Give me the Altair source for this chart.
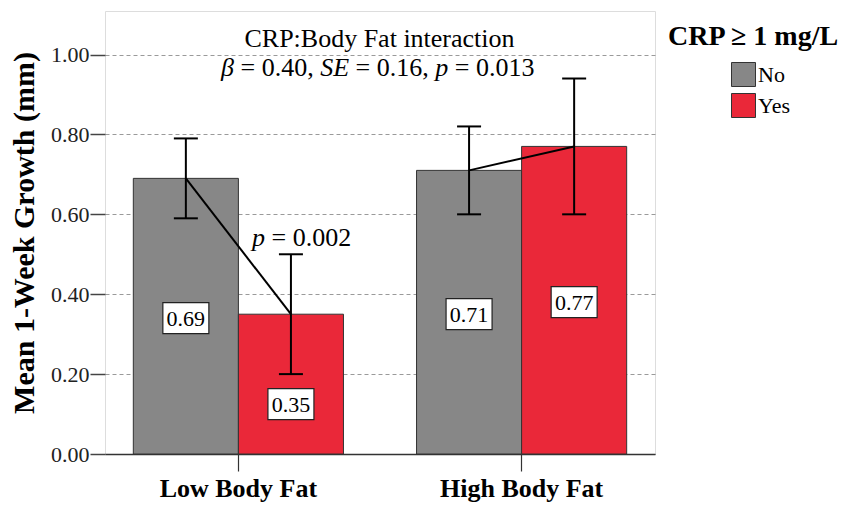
import altair as alt
import pandas as pd

# ---- data ----
groups = ["Low Body Fat", "Low Body Fat", "High Body Fat", "High Body Fat"]
crp = ["No", "Yes", "No", "Yes"]
means = [0.69, 0.35, 0.71, 0.77]
lower = [0.59, 0.20, 0.60, 0.60]
upper = [0.79, 0.50, 0.82, 0.94]
label_pos = [0.34, 0.125, 0.35, 0.38]
group_order = ["Low Body Fat", "High Body Fat"]
crp_order = ["No", "Yes"]
y_ticks = [0.0, 0.2, 0.4, 0.6, 0.8, 1.0]

df = pd.DataFrame({
    "group": groups, "crp": crp, "mean": means,
    "lower": lower, "upper": upper, "lab": label_pos,
    "txt": [f"{v:.2f}" for v in means],
})

SERIF = "Liberation Serif, Times New Roman, serif"
W, H = 550, 443

x = alt.X("group:N", sort=group_order,
          scale=alt.Scale(paddingInner=0.258, paddingOuter=0.1),
          axis=alt.Axis(title=None, labelFont=SERIF, labelFontSize=26,
                        labelFontWeight="bold", labelColor="black",
                        labelAngle=0, tickSize=17, tickColor="#333",
                        tickWidth=1.2, domainColor="#333", domainWidth=1.5,
                        labelPadding=4))
xo = alt.XOffset("crp:N", sort=crp_order,
                 scale=alt.Scale(paddingInner=0, paddingOuter=0))
yscale = alt.Scale(domain=[0, 1.109], nice=False, zero=True)

base = alt.Chart(df)

bars = base.mark_bar(stroke="#333", strokeWidth=1, opacity=1).encode(
    x=x, xOffset=xo,
    y=alt.Y("mean:Q", scale=yscale,
            axis=alt.Axis(title="Mean 1-Week Growth (mm)", values=y_ticks,
                          format=".2f", labelFont=SERIF, labelFontSize=22,
                          labelColor="#222", tickSize=15, tickColor="#444",
                          tickWidth=1.5, labelPadding=1, domain=False,
                          grid=True, gridDash=[4, 3], gridColor="#9a9a9a",
                          gridWidth=1, titleFont=SERIF, titleFontSize=30,
                          titleFontWeight="bold", titleColor="black",
                          titlePadding=11)),
    color=alt.Color("crp:N", sort=crp_order,
                    scale=alt.Scale(domain=crp_order,
                                    range=["#878787", "#EA2839"]),
                    legend=alt.Legend(title=None, orient="none",
                                      legendX=626, legendY=51,
                                      symbolType="square", symbolSize=576,
                                      symbolStrokeColor="#333",
                                      symbolStrokeWidth=1, symbolOpacity=1,
                                      labelFont=SERIF, labelFontSize=22,
                                      labelColor="black", rowPadding=2,
                                      padding=0, labelOffset=2)),
)

rules = base.mark_rule(color="black", strokeWidth=2).encode(
    x=x, xOffset=xo, y=alt.Y("lower:Q", scale=yscale), y2="upper:Q")

caps_lo = base.mark_tick(orient="horizontal", size=24, thickness=2,
                         color="black", opacity=1).encode(
    x=x, xOffset=xo, y=alt.Y("lower:Q", scale=yscale))
caps_hi = base.mark_tick(orient="horizontal", size=24, thickness=2,
                         color="black", opacity=1).encode(
    x=x, xOffset=xo, y=alt.Y("upper:Q", scale=yscale))

lines = base.mark_line(color="black", strokeWidth=2).encode(
    x=x, xOffset=xo, y=alt.Y("mean:Q", scale=yscale), detail="group:N")

box_path = "M-1,-0.674H1V0.674H-1Z"
boxes = base.mark_point(shape=box_path, size=2116, filled=True,
                        fill="white", stroke="#222", strokeWidth=1.2,
                        opacity=1).encode(
    x=x, xOffset=xo, y=alt.Y("lab:Q", scale=yscale))
box_txt = base.mark_text(font=SERIF, fontSize=22, color="black",
                         baseline="middle", dy=1).encode(
    x=x, xOffset=xo, y=alt.Y("lab:Q", scale=yscale), text="txt:N")

# ---- annotations (rich text composed from segments) ----
REG = {" ": 0.25, "=": 0.564, ".": 0.25, ",": 0.25}
ITA = {"β": 0.5, "S": 0.5, "E": 0.611, "p": 0.5}


def seg_width(s, italic, fs):
    tbl = ITA if italic else REG
    return sum(tbl.get(ch, 0.5) for ch in s) * fs


def rich(segments, x0, y0, fs):
    rows = []
    xc = x0
    for s, it in segments:
        lead = len(s) - len(s.lstrip(" "))
        rows.append({"t": s.strip(" "), "x": xc + seg_width(" " * lead, it, fs),
                     "y": y0, "it": it})
        xc += seg_width(s, it, fs)
    return rows


ann_rows = []
ann_rows += rich([("β", True), (" = 0.40, ", False), ("SE", True),
                  (" = 0.16, ", False), ("p", True), (" = 0.013", False)],
                 116, 65, 26)
ann_rows += rich([("p", True), (" = 0.002", False)], 147, 235, 26)
ann = pd.DataFrame(ann_rows)


def ann_layer(italic):
    d = ann[ann["it"] == italic][["t", "x", "y"]]
    return alt.Chart(d).mark_text(
        font=SERIF, fontSize=26, align="left", baseline="alphabetic",
        color="black", fontStyle="italic" if italic else "normal").encode(
        x=alt.X("x:Q", scale=None), y=alt.Y("y:Q", scale=None), text="t:N")


title1 = alt.Chart(pd.DataFrame({"t": ["CRP:Body Fat interaction"]})).mark_text(
    font=SERIF, fontSize=26, align="center", baseline="alphabetic",
    color="black").encode(x=alt.value(274.5), y=alt.value(36), text="t:N")

legend_title = alt.Chart(pd.DataFrame({"t": ["CRP ≥ 1 mg/L"]})).mark_text(
    font=SERIF, fontSize=28, fontWeight="bold", align="left",
    baseline="alphabetic", color="black").encode(
    x=alt.value(563), y=alt.value(34), text="t:N")

chart = alt.layer(bars, lines, rules, caps_lo, caps_hi, boxes, box_txt,
                  ann_layer(True), ann_layer(False), title1,
                  legend_title).properties(
    width=W, height=H,
    autosize=alt.AutoSizeParams(type="none"),
    padding={"left": 97, "top": 3, "right": 200, "bottom": 48},
).configure_view(stroke="#555", strokeWidth=1.5).configure(
    background="white")

chart.save("out.html", embed_options={"renderer": "svg", "actions": False})
